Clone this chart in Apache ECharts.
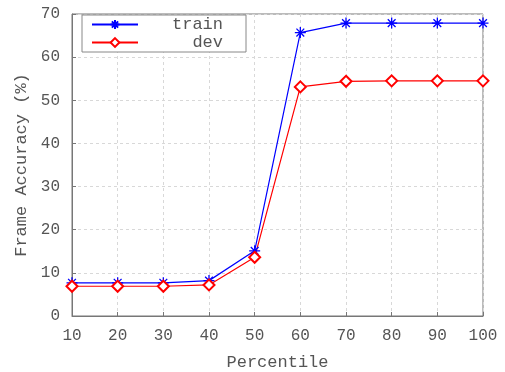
<!DOCTYPE html>
<html><head><meta charset="utf-8">
<script src="https://cdn.jsdelivr.net/npm/echarts@6/dist/echarts.min.js"></script>
<style>html,body{margin:0;padding:0;background:#fff}#c{width:505px;height:372px}</style>
</head><body><div id="c"></div>
<script>
var percentiles = [10, 20, 30, 40, 50, 60, 70, 80, 90, 100];
var trainAcc = [7.7, 7.7, 7.7, 8.2, 15.1, 65.7, 67.9, 67.9, 67.9, 67.9];
var devAcc = [6.9, 6.9, 6.9, 7.2, 13.6, 53.1, 54.4, 54.5, 54.5, 54.5];
var seriesNames = ['train', 'dev'];

var font = 'Liberation Mono, Courier New, monospace';
var txt = '#555';
function pairs(ys){ return percentiles.map(function(x,i){return [x, ys[i]];}); }
var star = 'path://M0,-10L0,10M-10,0L10,0M-7.07,-7.07L7.07,7.07M-7.07,7.07L7.07,-7.07';

var chart = echarts.init(document.getElementById('c'));
chart.setOption({
  animation: false,
  backgroundColor: '#fff',
  grid: {left: 72, right: 22, top: 14, bottom: 56, containLabel: false, outerBoundsMode: 'none',
         show: true, borderColor: '#777', borderWidth: 1},
  legend: {
    left: 82, top: 15, orient: 'vertical', itemGap: 1, itemWidth: 46, itemHeight: 11,
    padding: [1, 23, 1, 9], borderColor: '#888', borderWidth: 1, backgroundColor: '#fff',
    formatter: function(n){ return '{a|' + n + '}'; },
    textStyle: {fontFamily: font, fontSize: 17, color: txt,
      rich: {a: {fontFamily: font, fontSize: 17, color: txt, width: 80, align: 'right', lineHeight: 17}}},
    data: seriesNames
  },
  xAxis: {
    type: 'value', min: 10, max: 100, interval: 10,
    name: 'Percentile', nameLocation: 'middle', nameGap: 38,
    nameTextStyle: {fontFamily: font, fontSize: 17, color: txt},
    axisLine: {lineStyle: {color: '#777'}},
    axisTick: {show: true, inside: true, length: 4, lineStyle: {color: '#777'}},
    axisLabel: {fontFamily: font, fontSize: 16, color: txt, margin: 12},
    splitLine: {show: true, lineStyle: {color: '#d8d8d8', type: [3, 3]}}
  },
  yAxis: {
    type: 'value', min: 0, max: 70, interval: 10,
    name: 'Frame Accuracy (%)', nameLocation: 'middle', nameGap: 41,
    nameTextStyle: {fontFamily: font, fontSize: 17, color: txt},
    axisLine: {show: true, lineStyle: {color: '#777'}},
    axisTick: {show: true, inside: true, length: 4, lineStyle: {color: '#777'}},
    axisLabel: {fontFamily: font, fontSize: 16, color: txt, margin: 12},
    splitLine: {show: true, lineStyle: {color: '#d8d8d8', type: [3, 3]}}
  },
  series: [
    {name: seriesNames[0], type: 'line', data: pairs(trainAcc), symbol: star, symbolSize: 11,
     lineStyle: {color: '#0000ff', width: 1.2},
     itemStyle: {color: '#0000ff', borderColor: '#0000ff', borderWidth: 1.3}},
    {name: seriesNames[1], type: 'line', data: pairs(devAcc), symbol: 'emptyDiamond', symbolSize: 11,
     lineStyle: {color: '#ff0000', width: 1.2},
     itemStyle: {color: '#ff0000', borderColor: '#ff0000', borderWidth: 1.3}}
  ]
});
</script></body></html>
